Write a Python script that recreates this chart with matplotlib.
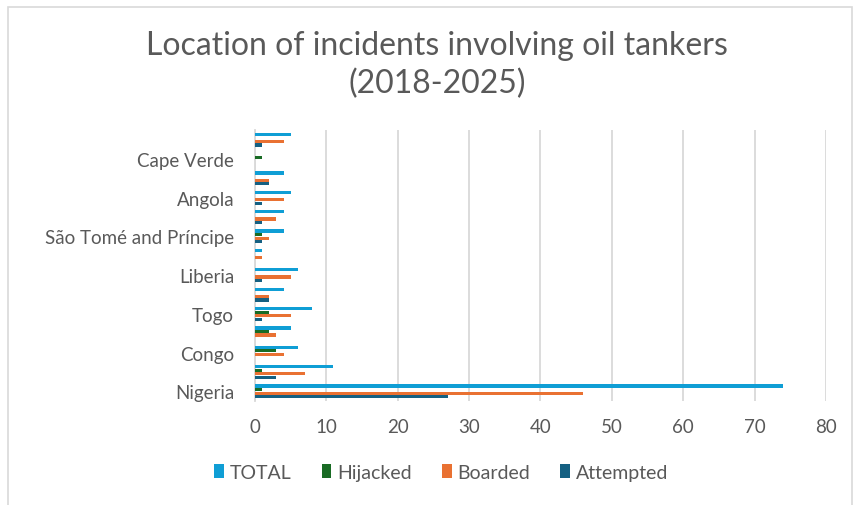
import matplotlib
matplotlib.use("Agg")
import matplotlib.pyplot as plt
import numpy as np
from matplotlib.patches import Rectangle, Patch

# Categories bottom -> top (unlabelled rows in the reference are left blank)
categories = ["Nigeria", "", "Congo", "", "Togo", "", "Liberia", "",
              "São Tomé and Príncipe", "", "Angola", "", "Cape Verde", ""]
total     = [74, 11, 6, 5, 8, 4, 6, 1, 4, 4, 5, 4, 0, 5]
hijacked  = [1, 1, 3, 2, 2, 0, 0, 0, 1, 0, 0, 0, 1, 0]
boarded   = [46, 7, 4, 3, 5, 2, 5, 1, 2, 3, 4, 2, 0, 4]
attempted = [27, 3, 0, 0, 1, 2, 1, 0, 1, 1, 1, 2, 0, 1]

series_names = ["TOTAL", "Hijacked", "Boarded", "Attempted"]
series_vals = [total, hijacked, boarded, attempted]
colors = ["#0F9ED5", "#196B24", "#E97132", "#156082"]
xticks = [0, 10, 20, 30, 40, 50, 60, 70, 80]

plt.rcParams['font.family'] = ['Lato', 'DejaVu Sans']
fig = plt.figure(figsize=(8.57, 5.06), dpi=100)
ax = fig.add_axes([0.2975, 0.2055, 0.6663, 0.5356])

y = np.arange(len(categories))
h = 0.185
offsets = [1.5 * h, 0.5 * h, -0.5 * h, -1.5 * h]
for vals, off, c, name in zip(series_vals, offsets, colors, series_names):
    ax.barh(y + off, vals, height=h * 0.9, color=c, label=name, zorder=3)

ax.set_xlim(0, 80)
ax.set_ylim(-0.5, len(categories) - 0.5)
ax.set_xticks(xticks)
ax.set_xticklabels([str(v) for v in xticks])
ax.set_yticks(y)
ax.set_yticklabels(categories)
ax.tick_params(axis='both', length=0, labelsize=13.5, colors="#595959")
ax.tick_params(axis='x', pad=12)
ax.tick_params(axis='y', pad=15)
ax.grid(axis='x', color="#D9D9D9", linewidth=1.3, zorder=0)
for s in ["top", "right", "bottom"]:
    ax.spines[s].set_visible(False)
ax.spines["left"].set_color("#D9D9D9")
ax.spines["left"].set_linewidth(1.3)

fig.text(0.51, 0.91, "Location of incidents involving oil tankers",
         ha="center", va="center", fontsize=23, color="#595959")
fig.text(0.51, 0.835, "(2018-2025)", ha="center", va="center",
         fontsize=23, color="#595959")

handles = [Patch(facecolor=c, label=n) for c, n in zip(colors, series_names)]
fig.legend(handles=handles, loc="center", bbox_to_anchor=(0.515, 0.065),
           ncol=4, frameon=False, fontsize=14, handlelength=0.5,
           handleheight=0.8, handletextpad=0.3, columnspacing=1.55,
           labelcolor="#595959")

fig.patches.append(Rectangle((0.009, -0.05), 0.985, 1.035, transform=fig.transFigure,
                             fill=False, edgecolor="#D9D9D9", linewidth=1.2))

fig.savefig("out.png", dpi=100)
